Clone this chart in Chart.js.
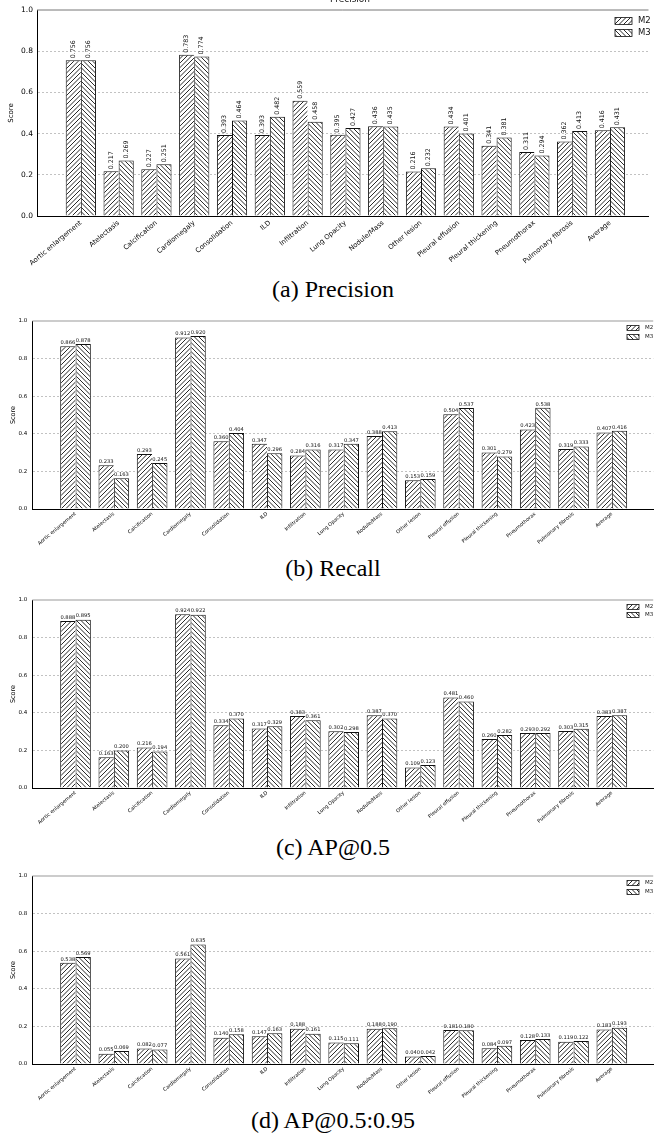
<!DOCTYPE html>
<html>
<head>
<meta charset="utf-8">
<script src="https://cdn.jsdelivr.net/npm/chart.js@4.4.1/dist/chart.umd.min.js"></script>
<style>
body{margin:0;background:#fff;width:656px;height:1135px;position:relative;overflow:hidden}
.pan{position:absolute;left:0;width:656px}
.cap{position:absolute;left:0;width:666px;text-align:center;font-family:"Liberation Serif","Times New Roman","DejaVu Serif",serif;font-size:24px;line-height:24px;color:#000}
</style>
</head>
<body>
<div class="pan" style="top:0;height:272px"><canvas id="c0"></canvas></div>
<div class="cap" style="top:277px">(a) Precision</div>
<div class="pan" style="top:300px;height:250px"><canvas id="c1"></canvas></div>
<div class="cap" style="top:556px">(b) Recall</div>
<div class="pan" style="top:580px;height:250px"><canvas id="c2"></canvas></div>
<div class="cap" style="top:835px">(c) AP@0.5</div>
<div class="pan" style="top:856px;height:250px"><canvas id="c3"></canvas></div>
<div class="cap" style="top:1108px">(d) AP@0.5:0.95</div>
<script>
//カテゴリ
var LABELS = ['Aortic enlargement','Atelectasis','Calcification','Cardiomegaly','Consolidation','ILD',
  'Infiltration','Lung Opacity','Nodule/Mass','Other lesion','Pleural effusion','Pleural thickening',
  'Pneumothorax','Pulmonary fibrosis','Average'];
var SERIES = ['M2','M3'];
//(a) Precision
var PREC_M2 = [0.756,0.217,0.227,0.783,0.393,0.393,0.559,0.395,0.436,0.216,0.434,0.341,0.311,0.362,0.416];
var PREC_M3 = [0.756,0.269,0.251,0.774,0.464,0.482,0.458,0.427,0.435,0.232,0.401,0.381,0.294,0.413,0.431];
//(b) Recall
var REC_M2 = [0.866,0.233,0.293,0.912,0.360,0.347,0.284,0.317,0.388,0.153,0.504,0.301,0.423,0.319,0.407];
var REC_M3 = [0.878,0.163,0.245,0.920,0.404,0.296,0.316,0.347,0.413,0.159,0.537,0.279,0.538,0.333,0.416];
//(c) AP@0.5
var AP50_M2 = [0.888,0.163,0.216,0.924,0.334,0.317,0.383,0.302,0.387,0.109,0.481,0.260,0.293,0.303,0.383];
var AP50_M3 = [0.895,0.200,0.194,0.922,0.370,0.329,0.361,0.298,0.370,0.123,0.460,0.282,0.292,0.315,0.387];
//(d) AP@0.5:0.95
var AP5095_M2 = [0.538,0.055,0.082,0.561,0.140,0.147,0.188,0.115,0.188,0.040,0.181,0.084,0.128,0.119,0.183];
var AP5095_M3 = [0.569,0.069,0.077,0.635,0.158,0.163,0.161,0.111,0.190,0.042,0.180,0.097,0.133,0.122,0.193];
//y軸目盛
var Y_MIN = 0, Y_MAX = 1, Y_STEP = 0.2;

Chart.defaults.font.family = '"DejaVu Sans", sans-serif';
Chart.defaults.color = '#000';
Chart.defaults.animation = false;

//ハッチング模様 dir=1:'/' dir=-1:'\'
function Hatch(dir){
  var n = 9, step = 4.5, c = document.createElement('canvas');
  c.width = n; c.height = n;
  var g = c.getContext('2d');
  g.fillStyle = '#fff'; g.fillRect(0,0,n,n);
  g.strokeStyle = '#111'; g.lineWidth = 0.9;
  g.beginPath();
  for (var k = -2*n; k <= 3*n; k += step){
    if (dir > 0){ g.moveTo(k,0); g.lineTo(k-n,n); }
    else { g.moveTo(k,0); g.lineTo(k+n,n); }
  }
  g.stroke();
  return g.createPattern(c,'repeat');
}

//棒の上に値を表示
var BarText = {
  id: 'barText',
  afterDatasetsDraw: function(chart, args, o){
    var ctx = chart.ctx;
    ctx.save();
    ctx.fillStyle = '#111';
    ctx.font = o.size + 'px "DejaVu Sans"';
    chart.data.datasets.forEach(function(ds, i){
      chart.getDatasetMeta(i).data.forEach(function(bar, j){
        var t = ds.data[j].y.toFixed(3);
        if (o.rotate){
          ctx.save();
          ctx.translate(bar.x, bar.y - 2);
          ctx.rotate(-Math.PI/2);
          ctx.textAlign = 'left'; ctx.textBaseline = 'middle';
          ctx.fillText(t, 0, 0);
          ctx.restore();
        }else{
          ctx.textAlign = 'center'; ctx.textBaseline = 'bottom';
          ctx.fillText(t, bar.x, bar.y - 1);
        }
      });
    });
    ctx.restore();
  }
};

//上の枠線・凡例・タイトル
var Frame = {
  id: 'frame',
  afterDraw: function(chart, args, o){
    var ctx = chart.ctx, a = chart.chartArea;
    ctx.save();
    ctx.strokeStyle = o.topColor; ctx.lineWidth = o.topWidth;
    ctx.beginPath(); ctx.moveTo(a.left, a.top); ctx.lineTo(a.right, a.top); ctx.stroke();
    //凡例
    ctx.font = o.legSize + 'px "DejaVu Sans"';
    ctx.textAlign = 'left'; ctx.textBaseline = 'middle';
    chart.data.datasets.forEach(function(ds, i){
      var cy = a.top + o.legY[i];
      ctx.fillStyle = ds.backgroundColor;
      ctx.fillRect(o.legX, cy - o.legH/2, o.legW, o.legH);
      ctx.strokeStyle = '#111'; ctx.lineWidth = 0.8;
      ctx.strokeRect(o.legX, cy - o.legH/2, o.legW, o.legH);
      ctx.fillStyle = '#111';
      ctx.fillText(ds.label, o.legX + o.legW + 6, cy);
    });
    if (o.title){
      ctx.font = '9px "DejaVu Sans"';
      ctx.textAlign = 'center'; ctx.textBaseline = 'alphabetic';
      ctx.fillText(o.title, 350, 1.5);
    }
    ctx.restore();
  }
};

function Pts(arr){
  var res = [];
  for (var i = 0; i < arr.length; i++) res.push({x: i, y: arr[i]});
  return res;
}

function MakePanel(id, m2, m3, p){
  var pat2 = Hatch(1), pat3 = Hatch(-1);
  return new Chart(document.getElementById(id), {
    type: 'bar',
    data: {
      datasets: [
        {label: SERIES[0], data: Pts(m2), backgroundColor: pat2, borderColor: '#111',
         borderWidth: {top: 1, left: 1, right: 0, bottom: 0}, borderSkipped: false,
         categoryPercentage: 0.8, barPercentage: 1.0},
        {label: SERIES[1], data: Pts(m3), backgroundColor: pat3, borderColor: '#111',
         borderWidth: {top: 1, left: 1, right: 1, bottom: 0}, borderSkipped: false,
         categoryPercentage: 0.8, barPercentage: 1.0}
      ]
    },
    options: {
      responsive: true,
      maintainAspectRatio: false,
      layout: {padding: {top: p.padTop, left: 0, right: 0, bottom: 0}},
      plugins: {
        legend: {display: false},
        tooltip: {enabled: false},
        barText: {size: p.val, rotate: p.rotate},
        frame: {topColor: p.topColor, topWidth: p.topWidth, legX: p.legX, legW: p.legW, legH: p.legH,
                legY: p.legY, legSize: p.legSize, title: p.title}
      },
      scales: {
        x: {
          type: 'linear',
          min: p.xmin, max: p.xmax,
          offset: false,
          grid: {display: false, offset: false, drawTicks: false},
          border: {display: true, color: '#000', width: 1},
          afterFit: function(s){ s.height = p.xh; },
          ticks: {
            stepSize: 1, autoSkip: false, includeBounds: false, maxTicksLimit: 100,
            minRotation: 40, maxRotation: 40, padding: p.xpad,
            font: {size: p.xtick},
            callback: function(v){
              return (v >= 0 && v < LABELS.length && v === Math.round(v)) ? LABELS[v] : '';
            }
          }
        },
        y: {
          min: Y_MIN, max: Y_MAX,
          afterFit: function(s){ s.width = p.left; },
          grid: {
            drawTicks: false,
            color: function(c){
              var v = c.tick ? c.tick.value : 0;
              return (v > 0.001 && v < 0.999) ? 'rgba(0,0,0,0.3)' : 'rgba(0,0,0,0)';
            },
            lineWidth: 0.8
          },
          border: {display: true, color: '#000', width: 1, dash: [2,2]},
          title: {display: true, text: 'Score', font: {size: p.titleSize}, padding: {top: p.titlePad, bottom: 0}},
          ticks: {
            stepSize: Y_STEP, padding: p.ypad, font: {size: p.tick},
            callback: function(v){ return Number(v).toFixed(1); }
          }
        }
      }
    },
    plugins: [BarText, Frame]
  });
}

MakePanel('c0', PREC_M2, PREC_M3, {
  padTop: 10, xh: 56, left: 37, xmin: -1.16, xmax: 15.02,
  tick: 7.5, xtick: 6.8, xpad: 3, ypad: 4, titleSize: 7, titlePad: 7, val: 6.3, rotate: true,
  topColor: '#777', topWidth: 1,
  legX: 615, legW: 17, legH: 7, legY: [11, 23], legSize: 8.5, title: 'Precision'
});
MakePanel('c1', REC_M2, REC_M3, {
  padTop: 21, xh: 41, left: 32.3, xmin: -1.128, xmax: 15.08,
  tick: 5.5, xtick: 5, xpad: 2, ypad: 5, titleSize: 6.5, titlePad: 9, val: 5.2, rotate: false,
  topColor: '#999', topWidth: 1.2,
  legX: 627, legW: 12, legH: 5, legY: [7, 16], legSize: 5.5, title: ''
});
MakePanel('c2', AP50_M2, AP50_M3, {
  padTop: 20, xh: 42, left: 32.3, xmin: -1.128, xmax: 15.08,
  tick: 5.5, xtick: 5, xpad: 2, ypad: 5, titleSize: 6.5, titlePad: 9, val: 5.2, rotate: false,
  topColor: '#999', topWidth: 1.2,
  legX: 627, legW: 12, legH: 5, legY: [7, 15], legSize: 5.5, title: ''
});
MakePanel('c3', AP5095_M2, AP5095_M3, {
  padTop: 20, xh: 42, left: 32.3, xmin: -1.128, xmax: 15.08,
  tick: 5.5, xtick: 5, xpad: 2, ypad: 5, titleSize: 6.5, titlePad: 9, val: 5.2, rotate: false,
  topColor: '#999', topWidth: 1.2,
  legX: 627, legW: 12, legH: 5, legY: [7, 16], legSize: 5.5, title: ''
});
</script>
</body>
</html>
